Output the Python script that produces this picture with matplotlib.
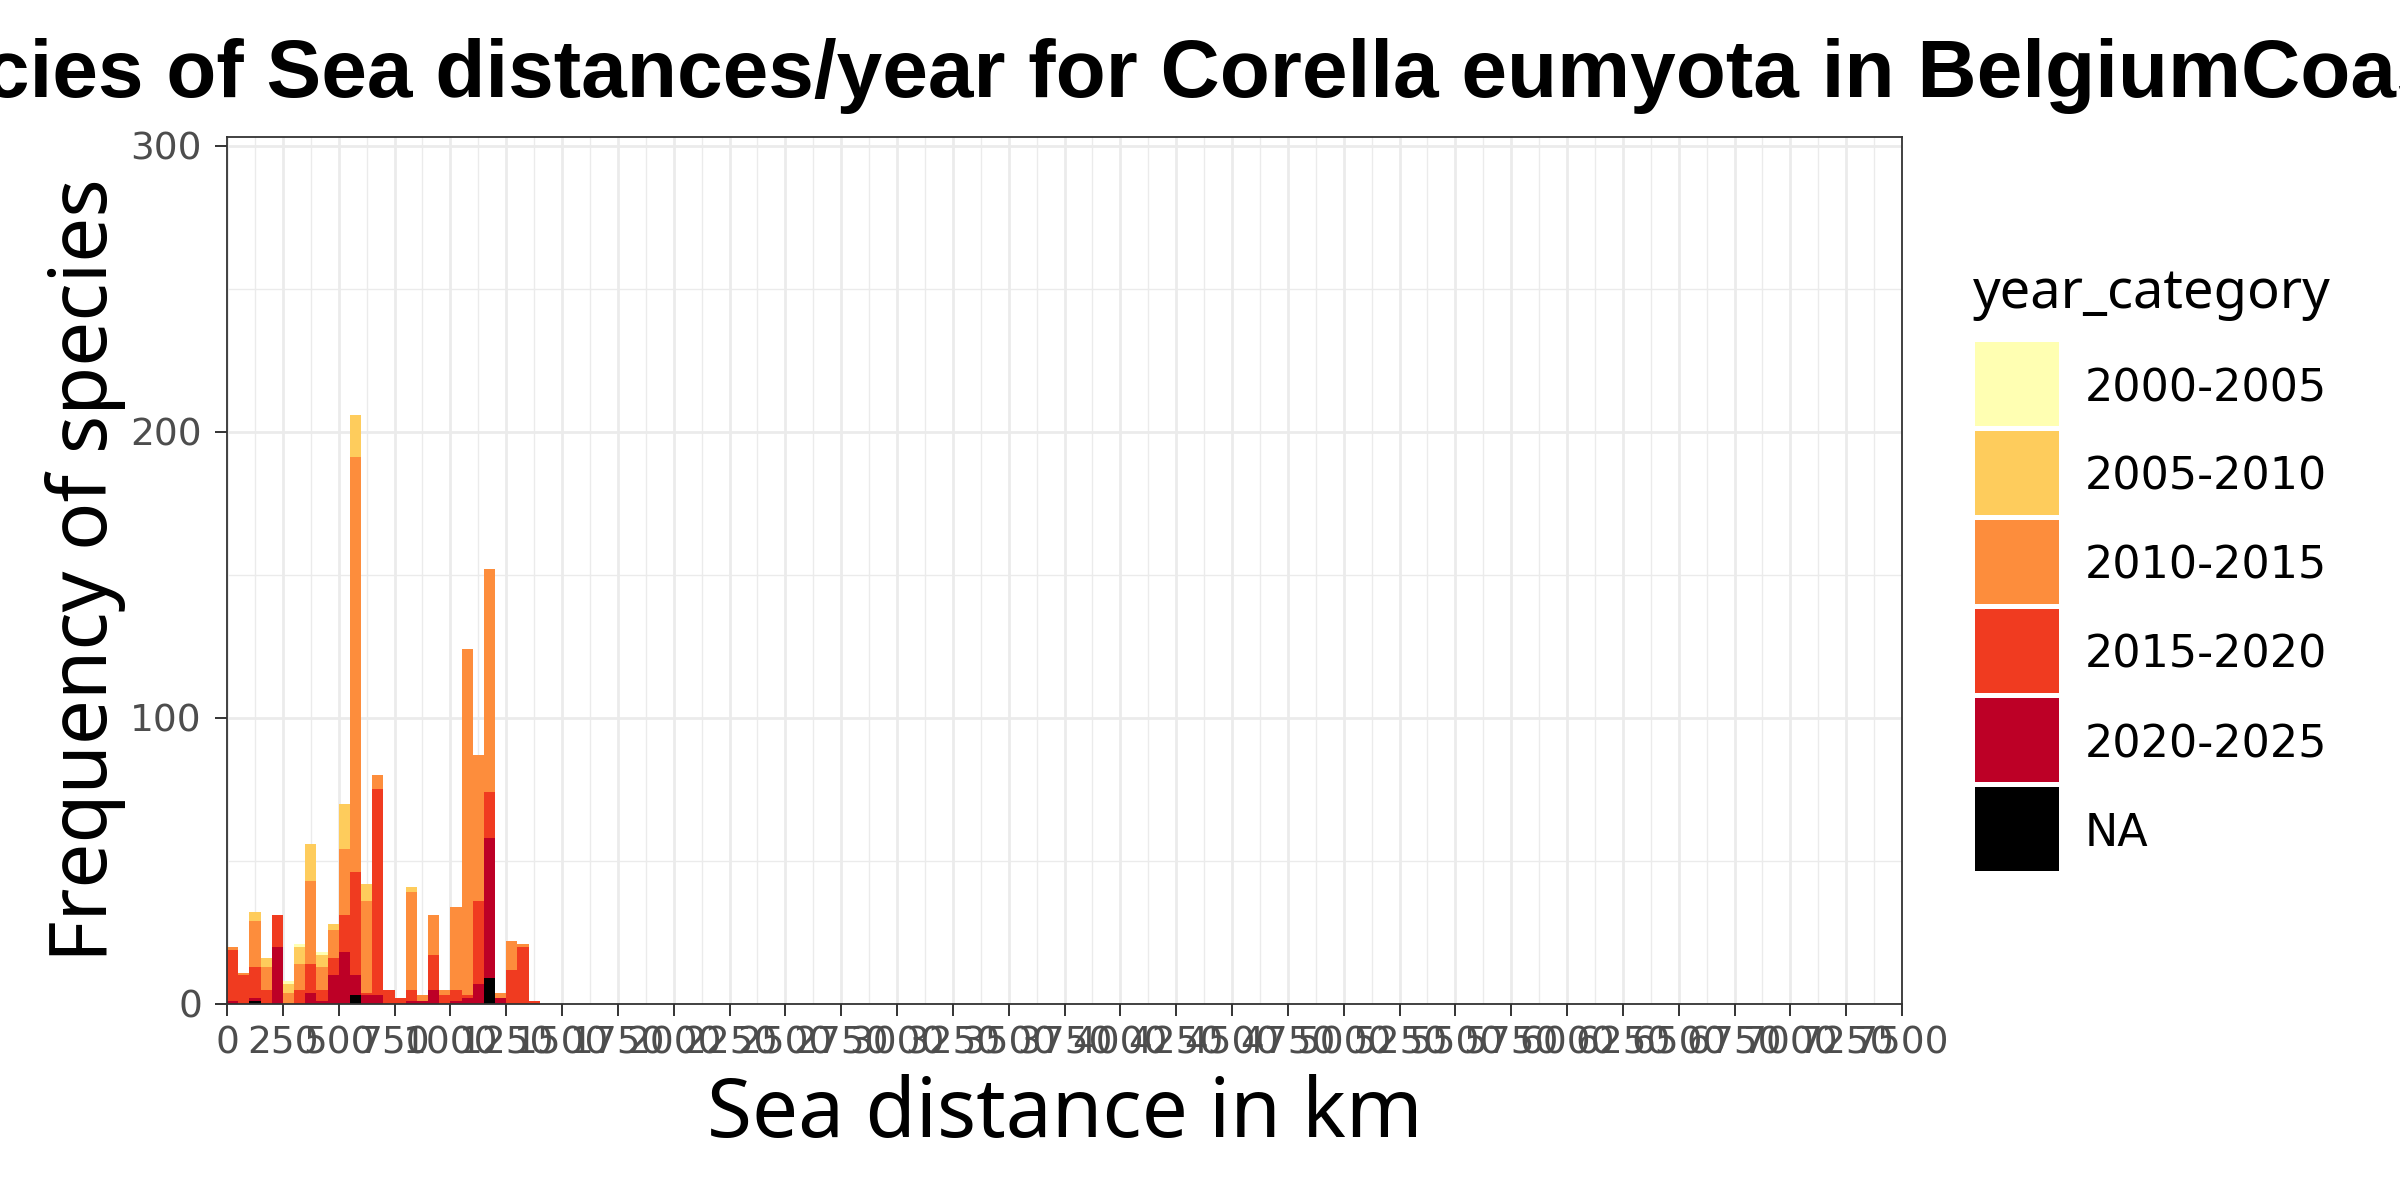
import matplotlib
matplotlib.use("Agg")
import matplotlib.pyplot as plt
import numpy as np
from matplotlib.patches import Rectangle
from matplotlib.ticker import MultipleLocator

# ---------------- data ----------------
bin_starts = list(range(0, 1400, 50))   # left edges of 50 km bins
bin_width = 50
categories = ["2000-2005", "2005-2010", "2010-2015", "2015-2020", "2020-2025", "NA"]
colors = ["#FFFFB2", "#FECC5C", "#FD8D3C", "#F03B20", "#BD0026", "#000000"]

cnt_2000_2005 = [0, 0, 0, 0, 0, 1, 1, 0, 1, 0, 0, 0, 0, 0, 0, 0, 0, 0, 0, 0, 0, 0, 0, 0, 0, 0, 0, 0]
cnt_2005_2010 = [0, 0, 3, 3, 0, 3, 6, 13, 4, 2, 16, 15, 6, 0, 0, 0, 2, 0, 0, 0, 0, 0, 0, 0, 0, 0, 0, 0]
cnt_2010_2015 = [1, 1, 16, 8, 0, 4, 9, 29, 8, 10, 23, 145, 32, 5, 0, 0, 34, 2, 14, 2, 29, 121, 51, 78, 2, 10, 1, 0]
cnt_2015_2020 = [18, 10, 11, 5, 11, 0, 5, 10, 4, 6, 13, 36, 1, 72, 5, 2, 4, 0, 12, 3, 4, 1, 29, 16, 0, 12, 20, 1]
cnt_2020_2025 = [1, 0, 1, 0, 20, 0, 0, 4, 1, 10, 18, 7, 3, 3, 0, 0, 1, 1, 5, 0, 1, 2, 7, 49, 2, 0, 0, 0]
cnt_na        = [0, 0, 1, 0, 0, 0, 0, 0, 0, 0, 0, 3, 0, 0, 0, 0, 0, 0, 0, 0, 0, 0, 0, 9, 0, 0, 0, 0]

x_ticks = list(range(0, 7501, 250))
y_ticks = [0, 100, 200, 300]

title = "Frequencies of Sea distances/year for Corella eumyota in BelgiumCoast"
xlabel = "Sea distance in km"
ylabel = "Frequency of species"
legend_title = "year_category"

# ---------------- figure ----------------
W, H = 2400, 1200
fig = plt.figure(figsize=(24, 12), dpi=100)
fig.patch.set_facecolor("white")

L, R, T, B = 227, 1902, 137, 1004
ax = fig.add_axes([L / W, 1 - B / H, (R - L) / W, (B - T) / H])

series_bottom_up = [cnt_na, cnt_2020_2025, cnt_2015_2020, cnt_2010_2015, cnt_2005_2010, cnt_2000_2005]
colors_bottom_up = colors[::-1]
bottom = np.zeros(len(bin_starts))
for vals, col in zip(series_bottom_up, colors_bottom_up):
    vals = np.array(vals, dtype=float)
    ax.bar(bin_starts, vals, width=bin_width, bottom=bottom, align="edge",
           color=col, edgecolor="none", linewidth=0, zorder=2)
    bottom += vals

ax.set_xlim(0, 7500)
ax.set_ylim(0, 303)

ax.set_xticks(x_ticks)
ax.set_xticklabels([str(v) for v in x_ticks])
ax.set_yticks(y_ticks)
ax.set_yticklabels([str(v) for v in y_ticks])
ax.xaxis.set_minor_locator(MultipleLocator(125))
ax.yaxis.set_minor_locator(MultipleLocator(50))

ax.set_axisbelow(True)
ax.grid(which="major", color="#EBEBEB", linewidth=2.0)
ax.grid(which="minor", color="#EBEBEB", linewidth=1.0)

for sp in ax.spines.values():
    sp.set_color("#333333")
    sp.set_linewidth(1.3)

ax.tick_params(which="major", length=8.6, width=1.4, color="#333333",
               labelcolor="#4D4D4D", labelsize=27)
ax.tick_params(axis="x", which="major", pad=6.8)
ax.tick_params(axis="y", which="major", pad=9.4)
ax.tick_params(which="minor", length=0)
for lab in ax.get_xticklabels() + ax.get_yticklabels():
    lab.set_family("DejaVu Sans")

# ---------------- texts ----------------
cx = (L + R) / 2 / W
fig.text(cx, 1 - 97 / H, title, ha="center", va="baseline",
         fontsize=59, fontweight="bold", family=["Liberation Sans", "DejaVu Sans"],
         color="black")
fig.text(cx, 1 - 1137 / H, xlabel, ha="center", va="baseline",
         fontsize=59, family="Noto Sans", color="black")
fig.text(107 / W, 1 - 570 / H, ylabel, rotation=90, rotation_mode="anchor",
         ha="center", va="baseline", fontsize=57.5, family="Noto Sans", color="black")

# ---------------- legend ----------------
fig.text(1973 / W, 1 - 308 / H, legend_title, ha="left", va="baseline",
         fontsize=39, family="Noto Sans", color="black")
key_x, key_top, key_w, key_h, pitch = 1975, 342, 84, 84, 89
for i, (lab, col) in enumerate(zip(categories, colors)):
    top = key_top + i * pitch
    fig.add_artist(Rectangle((key_x / W, 1 - (top + key_h) / H), key_w / W, key_h / H,
                             transform=fig.transFigure, facecolor=col, edgecolor="none"))
    fig.text(2085 / W, 1 - (top + key_h / 2 + 17) / H, lab, ha="left", va="baseline",
             fontsize=32, family="DejaVu Sans", color="black")

fig.savefig("out.png", dpi=100)
